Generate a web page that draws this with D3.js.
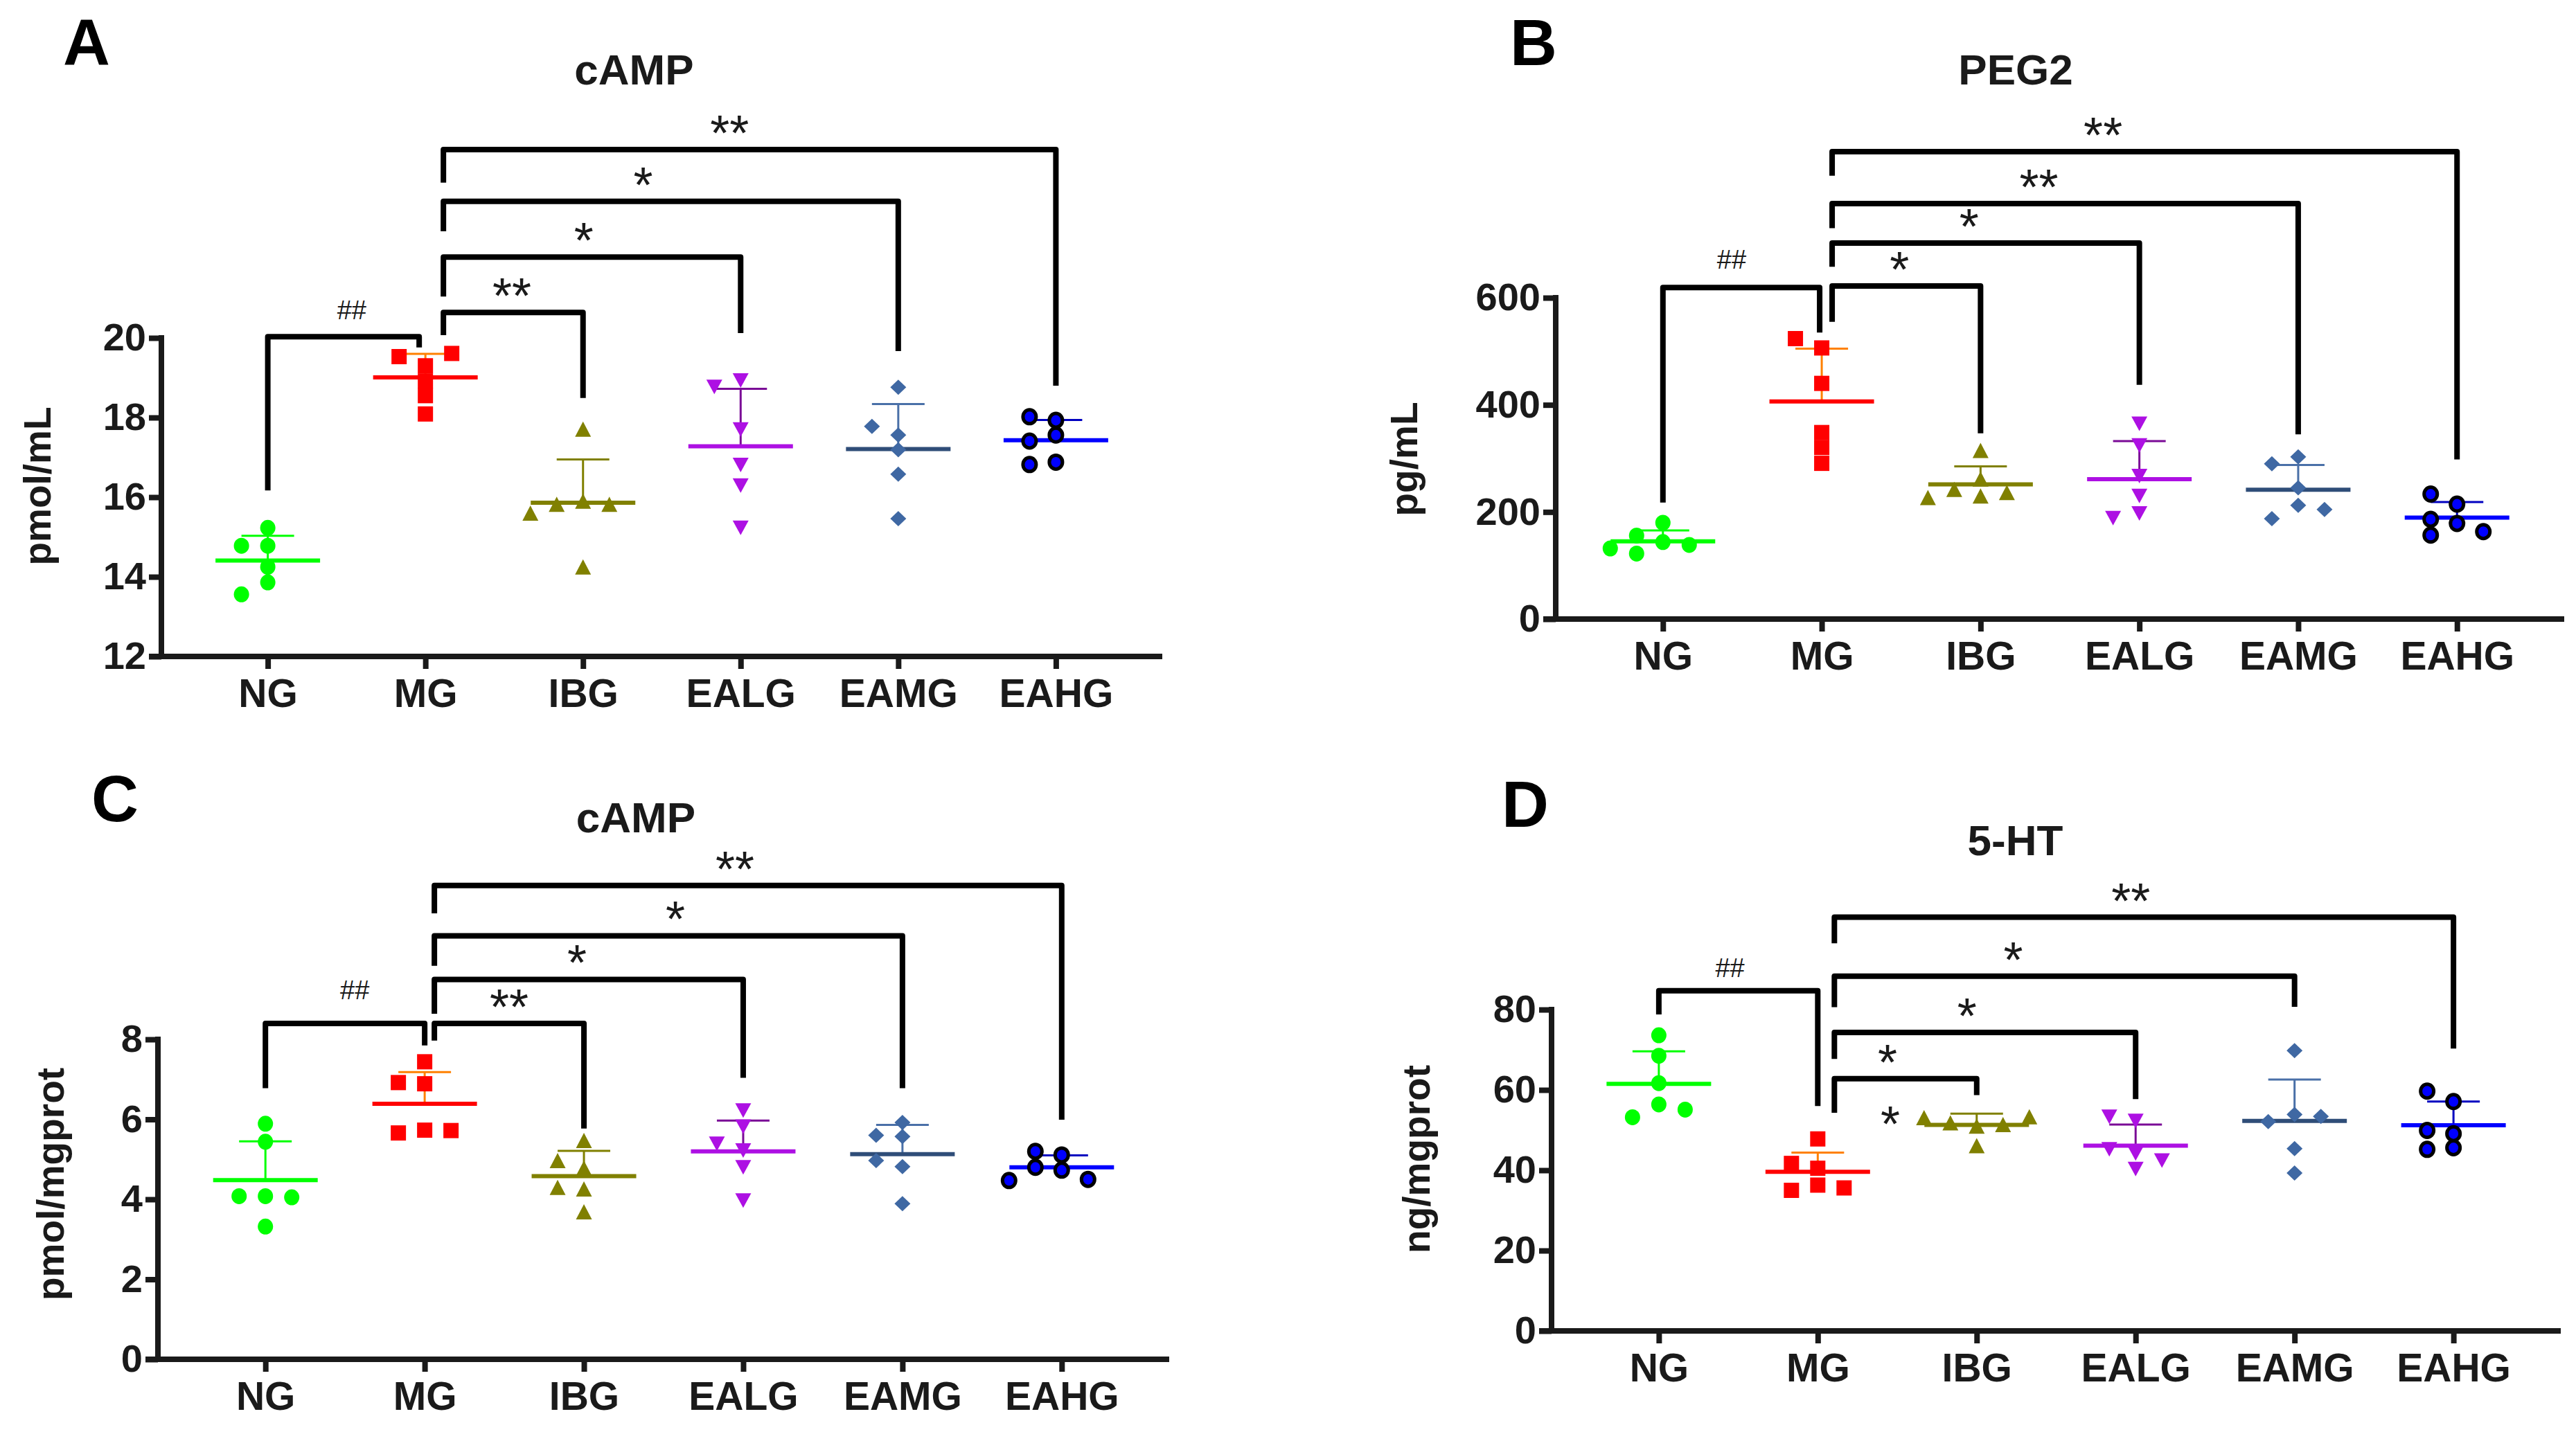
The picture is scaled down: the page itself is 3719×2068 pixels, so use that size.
<!DOCTYPE html>
<html><head><meta charset="utf-8">
<script src="https://cdn.jsdelivr.net/npm/d3@7"></script>
<style>
html,body{margin:0;padding:0;background:#fff;}
svg{display:block;}
</style></head><body>
<svg id="chart" width="3719" height="2068"></svg>
<script>
// ---------------- DATA ----------------
const categories = ["NG", "MG", "IBG", "EALG", "EAMG", "EAHG"];

// Panel A: cAMP (pmol/mL)
const campSerumValues = [
  [15.23, 14.78, 14.78, 14.25, 13.86, 13.56],
  [19.30, 19.53, 19.61, 18.92, 18.55, 18.09],
  [17.71, 15.90, 15.82, 15.82, 15.60, 14.25],
  [18.93, 18.77, 17.70, 16.81, 16.29, 15.23],
  [18.76, 17.56, 17.78, 17.19, 16.58, 15.46],
  [17.93, 18.02, 17.56, 17.41, 16.88, 16.82]
];
const campSerumMean = [14.41, 19.01, 15.86, 17.28, 17.21, 17.43];
const campSerumSD   = [0.62, 0.59, 1.09, 1.44, 1.13, 0.51];
const campSerumTicks = [12, 14, 16, 18, 20];
// [fromGroup, toGroup, label, bracketTop, leftLegEnd, rightLegEnd] in data units
const campSerumBrackets = [
  [0, 1, "##", 20.03, 16.17, 19.76],
  [1, 2, "**", 20.64, 20.07, 18.49],
  [1, 3, "*", 22.03, 21.04, 20.12],
  [1, 4, "*", 23.43, 22.68, 19.67],
  [1, 5, "**", 24.73, 23.90, 18.80]
];

// Panel B: PEG2 (pg/mL)
const peg2Values = [
  [179.8, 155.9, 143.7, 138.4, 131.9, 122.3],
  [506.3, 523.7, 440.1, 348.3, 320.4, 290.8],
  [314.8, 261.6, 242.1, 236.4, 229.9, 226.8],
  [364.8, 324.3, 266.9, 229.9, 197.2, 188.5],
  [303.0, 289.9, 245.1, 212.5, 187.6, 204.6],
  [214.6, 233.3, 178.5, 186.3, 163.3, 156.7]
];
const peg2Mean = [145.0, 406.2, 251.6, 261.2, 241.6, 189.4];
const peg2SD   = [20.4, 98.8, 33.6, 71.0, 46.2, 29.1];
const peg2Ticks = [0, 200, 400, 600];
const peg2Brackets = [
  [0, 1, "##", 619, 217.6, 535],
  [1, 2, "*", 622, 555, 347],
  [1, 3, "*", 702, 658, 437.5],
  [1, 4, "**", 776, 730, 345],
  [1, 5, "**", 873, 828, 298]
];

// Panel C: cAMP (pmol/mgprot)
const campTissueValues = [
  [5.89, 5.44, 4.08, 4.08, 4.05, 3.32],
  [7.44, 6.89, 6.92, 5.73, 5.66, 5.72],
  [5.47, 4.78, 4.97, 4.26, 4.30, 3.69],
  [6.22, 5.82, 5.22, 5.39, 4.80, 3.97],
  [5.92, 5.57, 5.60, 4.82, 4.97, 3.89],
  [5.11, 5.20, 4.73, 4.80, 4.50, 4.47]
];
const campTissueMean = [4.48, 6.39, 4.58, 5.20, 5.13, 4.80];
const campTissueSD   = [0.97, 0.79, 0.63, 0.77, 0.73, 0.30];
const campTissueTicks = [0, 2, 4, 6, 8];
const campTissueBrackets = [
  [0, 1, "##", 8.40, 6.78, 7.85],
  [1, 2, "**", 8.40, 7.97, 5.77],
  [1, 3, "*", 9.50, 8.64, 7.04],
  [1, 4, "*", 10.59, 9.84, 6.78],
  [1, 5, "**", 11.85, 11.15, 5.99]
];

// Panel D: 5-HT (ng/mgprot)
const htValues = [
  [73.6, 68.5, 61.7, 56.4, 53.2, 55.1],
  [47.8, 40.5, 41.7, 36.3, 35.0, 35.6],
  [51.0, 51.8, 51.4, 53.1, 53.3, 46.1],
  [52.3, 53.3, 44.2, 45.2, 42.4, 40.3],
  [69.8, 53.9, 52.1, 53.4, 45.4, 39.3],
  [57.1, 59.7, 49.1, 49.9, 45.6, 45.2]
];
const htMean = [61.5, 39.6, 51.3, 46.1, 52.3, 51.2];
const htSD   = [8.1, 4.8, 2.8, 5.3, 10.3, 5.9];
const htTicks = [0, 20, 40, 60, 80];
const htBrackets = [
  [0, 1, "##", 84.7, 78.8, 56.0],
  [1, 2, "*", 62.8, 54.3, 58.7],
  [1, 3, "*", 74.3, 67.7, 57.7],
  [1, 4, "*", 88.3, 80.6, 80.7],
  [1, 5, "**", 103, 96.5, 70.3]
];
// extra asterisk beside IBG points: [bracket whose label x is shared, value]
const htExtraMarks = [[1, 53.2]];

// ---------------- STYLE / LAYOUT ----------------
const FONT = '"Liberation Sans", Arial, Helvetica, sans-serif';
const INK = "#1a1a1a";
const groupStyle = [
  {shape: "circle",  fill: "#00ff00", stroke: "none", mean: "#00ff00", sd: "#00ff00"},
  {shape: "square",  fill: "#ff0000", stroke: "none", mean: "#ff0000", sd: "#ff8000"},
  {shape: "triUp",   fill: "#808000", stroke: "none", mean: "#808000", sd: "#808000"},
  {shape: "triDown", fill: "#ad10e3", stroke: "none", mean: "#ad10e3", sd: "#7a0a96"},
  {shape: "diamond", fill: "#3f68a3", stroke: "none", mean: "#2f4d78", sd: "#4a70a8"},
  {shape: "ring",    fill: "#0000ff", stroke: "#000000", mean: "#0000ff", sd: "#0000c0"}
];

const panels = [
  {letter: "A", title: "cAMP", yLabel: "pmol/mL", values: campSerumValues, mean: campSerumMean, sd: campSerumSD,
   domain: [12, 20], ticks: campSerumTicks, brackets: campSerumBrackets, extra: [],
   L: {axisX: 233, xEnd: 1678, yTop: 488, yBottom: 948, titleY: 122, titleDX: 0, letterX: 91, letterY: 94,
       hashOff: -9, starOff: 26, hashGap: 25, yLabDX: -3, yLabDY: 0, labelShift: [12, -2, -12, -40, -29]}},
  {letter: "B", title: "PEG2", yLabel: "pg/mL", values: peg2Values, mean: peg2Mean, sd: peg2SD,
   domain: [0, 600], ticks: peg2Ticks, brackets: peg2Brackets, extra: [],
   L: {axisX: 2246, xEnd: 3702, yTop: 430, yBottom: 894, titleY: 122, titleDX: -24, letterX: 2180, letterY: 94,
       hashOff: -3, starOff: 15, hashGap: 27, yLabDX: -12, yLabDY: 17, labelShift: [-14, -10, -24, -38, -60]}},
  {letter: "C", title: "cAMP", yLabel: "pmol/mgprot", values: campTissueValues, mean: campTissueMean, sd: campTissueSD,
   domain: [0, 8], ticks: campTissueTicks, brackets: campTissueBrackets, extra: [],
   L: {axisX: 228, xEnd: 1688, yTop: 1501, yBottom: 1963, titleY: 1202, titleDX: 0, letterX: 132, letterY: 1186,
       hashOff: 0, starOff: 14, hashGap: 35, yLabDX: -10, yLabDY: -6, labelShift: [14, 0, -17, 10, -19]}},
  {letter: "D", title: "5-HT", yLabel: "ng/mgprot", values: htValues, mean: htMean, sd: htSD,
   domain: [0, 80], ticks: htTicks, brackets: htBrackets, extra: htExtraMarks,
   L: {axisX: 2240, xEnd: 3697, yTop: 1458, yBottom: 1922, titleY: 1235, titleDX: -19, letterX: 2168, letterY: 1194,
       hashOff: 0, starOff: 24, hashGap: 20, yLabDX: -19, yLabDY: 0, labelShift: [-12, -26, -26, -74, -19]}}
];

const TICK = 18, AXW = 8, SLOT = 38, COLLIDE = 20;
const MEAN_HALF = 75.5, CAP_HALF = 38;

function shapePath(s) {
  switch (s) {
    case "square": return "M-11,-11H11V11H-11Z";
    case "triUp": return "M0,-11L11.5,11H-11.5Z";
    case "triDown": return "M-11.5,-10.5H11.5L0,10.5Z";
    case "diamond": return "M0,-11L11.5,0L0,11L-11.5,0Z";
    default: return null;
  }
}

// simple swarm: first free slot (0,-1,1,-2,2...) without vertical collision
function swarm(vals, y) {
  const placed = [];
  const order = [0, -1, 1, -2, 2, -3, 3];
  return vals.map(v => {
    const py = y(v);
    for (const k of order) {
      if (!placed.some(p => p.k === k && Math.abs(p.py - py) < COLLIDE)) {
        placed.push({k, py});
        return k;
      }
    }
    return 0;
  });
}

const svg = d3.select("#chart");
svg.append("rect").attr("width", 3719).attr("height", 2068).attr("fill", "#fff");

panels.forEach(P => {
  const L = P.L;
  const g = svg.append("g");
  const x = d3.scalePoint().domain(categories).range([L.axisX, L.xEnd]).padding(0.675);
  const y = d3.scaleLinear().domain(P.domain).range([L.yBottom, L.yTop]);
  const slot = d3.scaleLinear().domain([0, 1]).range([0, SLOT]);

  // y axis
  const gy = g.append("g").attr("transform", `translate(${L.axisX},0)`)
    .call(d3.axisLeft(y).tickValues(P.ticks).tickSize(TICK).tickSizeOuter(0).tickPadding(4).tickFormat(d3.format("d")));
  gy.select(".domain").remove();
  gy.attr("font-family", FONT).attr("font-size", 56).attr("font-weight", "bold");
  gy.selectAll(".tick line").attr("stroke", INK).attr("stroke-width", AXW);
  gy.selectAll(".tick text").attr("fill", INK);

  // x axis
  const gx = g.append("g").attr("transform", `translate(0,${L.yBottom})`)
    .call(d3.axisBottom(x).tickSize(TICK).tickSizeOuter(0));
  gx.select(".domain").remove();
  gx.attr("font-family", FONT).attr("font-size", 57).attr("font-weight", "bold");
  gx.selectAll(".tick line").attr("stroke", INK).attr("stroke-width", AXW);
  gx.selectAll(".tick text").attr("fill", INK).attr("y", 73).attr("dy", 0);

  // axis lines
  g.append("line").attr("x1", L.axisX).attr("x2", L.axisX).attr("y1", y(P.domain[1])).attr("y2", y(P.domain[0]))
    .attr("stroke", INK).attr("stroke-width", AXW).attr("stroke-linecap", "square");
  g.append("line").attr("x1", L.axisX - TICK).attr("x2", L.xEnd).attr("y1", y(P.domain[0])).attr("y2", y(P.domain[0]))
    .attr("stroke", INK).attr("stroke-width", AXW);

  // y label
  let minLeft = Infinity;
  gy.selectAll(".tick text").each(function () {
    const b = this.getBBox();
    minLeft = Math.min(minLeft, L.axisX + b.x);
  });
  const midY = (y(P.domain[0]) + y(P.domain[1])) / 2 - 16 + L.yLabDY;
  g.append("text").attr("transform", `translate(${minLeft - 73 + L.yLabDX},${midY}) rotate(-90)`)
    .attr("text-anchor", "middle").attr("font-family", FONT).attr("font-size", 55).attr("font-weight", "bold")
    .attr("fill", INK).text(P.yLabel);

  // title & letter
  const cx0 = (L.axisX + L.xEnd) / 2 - 40 + L.titleDX;
  g.append("text").attr("x", cx0).attr("y", L.titleY).attr("text-anchor", "middle")
    .attr("font-family", FONT).attr("font-size", 62).attr("font-weight", "bold").attr("fill", INK).text(P.title);
  g.append("text").attr("x", L.letterX).attr("y", L.letterY)
    .attr("font-family", FONT).attr("font-size", 94).attr("font-weight", "bold").attr("fill", "#000").text(P.letter);

  // groups
  categories.forEach((c, i) => {
    const st = groupStyle[i];
    const cx = x(c);
    const m = P.mean[i], s = P.sd[i];
    const gg = g.append("g");
    // SD (upper)
    gg.append("line").attr("x1", cx).attr("x2", cx).attr("y1", y(m)).attr("y2", y(m + s))
      .attr("stroke", st.sd).attr("stroke-width", 3);
    gg.append("line").attr("x1", cx - CAP_HALF).attr("x2", cx + CAP_HALF).attr("y1", y(m + s)).attr("y2", y(m + s))
      .attr("stroke", st.sd).attr("stroke-width", 3);
    // mean
    gg.append("line").attr("x1", cx - MEAN_HALF).attr("x2", cx + MEAN_HALF).attr("y1", y(m)).attr("y2", y(m))
      .attr("stroke", st.mean).attr("stroke-width", 6);
    // points
    const offs = swarm(P.values[i], y);
    P.values[i].forEach((v, j) => {
      const px = cx + slot(offs[j]), py = y(v);
      if (st.shape === "circle") {
        gg.append("ellipse").attr("cx", px).attr("cy", py).attr("rx", 11).attr("ry", 11.5).attr("fill", st.fill);
      } else if (st.shape === "ring") {
        gg.append("ellipse").attr("cx", px).attr("cy", py).attr("rx", 9.5).attr("ry", 10).attr("fill", st.fill)
          .attr("stroke", st.stroke).attr("stroke-width", 5);
      } else {
        gg.append("path").attr("d", shapePath(st.shape)).attr("transform", `translate(${px},${py})`).attr("fill", st.fill);
      }
    });
  });

  // brackets
  const labelX = [];
  P.brackets.forEach((b, bi) => {
    const [from, to, lab, top, lEnd, rEnd] = b;
    const xL = x(categories[from]) + (from === 1 ? L.starOff : 0);
    const xR = x(categories[to]) + (to === 1 ? L.hashOff : 0);
    g.append("path").attr("d", `M${xL},${y(lEnd)}V${y(top)}H${xR}V${y(rEnd)}`)
      .attr("fill", "none").attr("stroke", "#000").attr("stroke-width", 8).attr("stroke-linejoin", "round");
    const lx = (xL + xR) / 2 + L.labelShift[bi];
    labelX.push(lx);
    if (lab[0] === "#") {
      g.append("text").attr("x", lx).attr("y", y(top) - L.hashGap).attr("text-anchor", "middle")
        .attr("font-family", FONT).attr("font-size", 38).attr("fill", INK).text(lab);
    } else {
      g.append("text").attr("x", lx).attr("y", y(top) + 1).attr("text-anchor", "middle")
        .attr("font-family", FONT).attr("font-size", 72).attr("fill", INK).text(lab);
    }
  });
  P.extra.forEach(e => {
    g.append("text").attr("x", labelX[e[0]] + 4).attr("y", y(e[1]) + 35).attr("text-anchor", "middle")
      .attr("font-family", FONT).attr("font-size", 72).attr("fill", INK).text("*");
  });
});
</script>
</body></html>
